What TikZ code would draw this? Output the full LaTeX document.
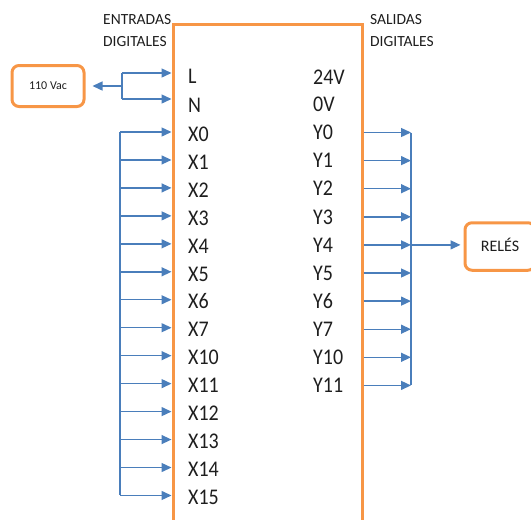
\documentclass[tikz,border=0pt]{standalone}
\usepackage{fontspec}
\setmainfont{Carlito}
\usetikzlibrary{arrows.meta}
\definecolor{frameorange}{HTML}{F79646}
\definecolor{wireblue}{HTML}{4A7EBB}
\definecolor{inktext}{HTML}{1E1E1E}
% terminal labels are set slightly taller than wide
\newcommand{\tallpin}[1]{\scalebox{1}[1.12]{#1}}
\begin{document}
\begin{tikzpicture}[x=1pt,y=-1pt,
  wire/.style={draw=wireblue, line width=1.4pt},
  arr/.style={wire, -{Triangle[length=10pt,width=9pt]}},
  pin/.style={anchor=west, inner sep=0pt, text=inktext, text height=14.4pt, text depth=0pt,
              font=\fontsize{20}{20}\selectfont},
  head/.style={anchor=west, inner sep=0pt, text=inktext, text height=10pt, text depth=0pt,
               font=\fontsize{15.5}{16}\selectfont},
  box/.style={draw=frameorange, line width=3pt, rounded corners=7pt, align=center,
              inner sep=0pt, text=inktext}]
\useasboundingbox (0,0) rectangle (531,520);

% PLC body (open at the bottom)
\draw[frameorange, line width=3pt] (173,525) -- (173,24) -- (362,24) -- (362,525);

% column headings
\node[head] (inA)  at (103,19) {ENTRADAS};
\node[head] (inB)  at (103,41) {DIGITALES};
\node[head] (outA) at (370,19) {SALIDAS};
\node[head] (outB) at (370,41) {DIGITALES};

% supply terminals
\node[pin] (pL)   at (188,76)    {\tallpin{L}};
\node[pin] (pN)   at (188,105)   {\tallpin{N}};
\node[pin] (p24)  at (313,77)    {\tallpin{24V}};
\node[pin] (p0V)  at (313,104.5) {\tallpin{0V}};

% input terminals
\foreach \t [count=\i from 0] in {X0,X1,X2,X3,X4,X5,X6,X7,X10,X11,X12,X13,X14,X15} {
  \node[pin] (x\i) at (188,{134+27.96*\i}) {\tallpin{\t}};
  \coordinate (xin\i)  at (171.5,{132+27.96*\i});
  \coordinate (xbus\i) at (120,{132+27.96*\i});
  \draw[arr] (xbus\i) -- (xin\i);
}
\draw[wire] (xbus0) -- (xbus13);

% output terminals
\foreach \t [count=\i from 0] in {Y0,Y1,Y2,Y3,Y4,Y5,Y6,Y7,Y10,Y11} {
  \node[pin] (y\i) at (313,{132.5+28.1*\i}) {\tallpin{\t}};
  \coordinate (yout\i) at (363.5,{132.5+28.1*\i});
  \coordinate (ybus\i) at (411,{132.5+28.1*\i});
  \draw[arr] (yout\i) -- (ybus\i);
}
\draw[wire] (ybus0) -- (ybus9);

% 110 Vac supply
\node[box, minimum width=72pt, minimum height=41pt, font=\fontsize{12}{12}\selectfont]
  (vac) at (48,86) {110 Vac};
\coordinate (Lin)   at (171.5,73);
\coordinate (Nin)   at (171.5,99);
\coordinate (Lbus)  at (122,73);
\coordinate (Nbus)  at (122,99);
\coordinate (LNmid) at (122,86);
\draw[arr] (Lbus) -- (Lin);
\draw[arr] (Nbus) -- (Nin);
\draw[wire] (Lbus) -- (Nbus);
\draw[arr, shorten >=7pt] (LNmid) -- (vac.east |- LNmid);

% relay block
\node[box, minimum width=70pt, minimum height=47.5pt, text height=10.3pt, text depth=0pt,
      font=\fontsize{16}{16}\selectfont] (rel) at (500,246.5) {RELÉS};
\draw[arr, shorten >=3pt] (ybus4) -- (rel.west |- ybus4);
\end{tikzpicture}
\end{document}
